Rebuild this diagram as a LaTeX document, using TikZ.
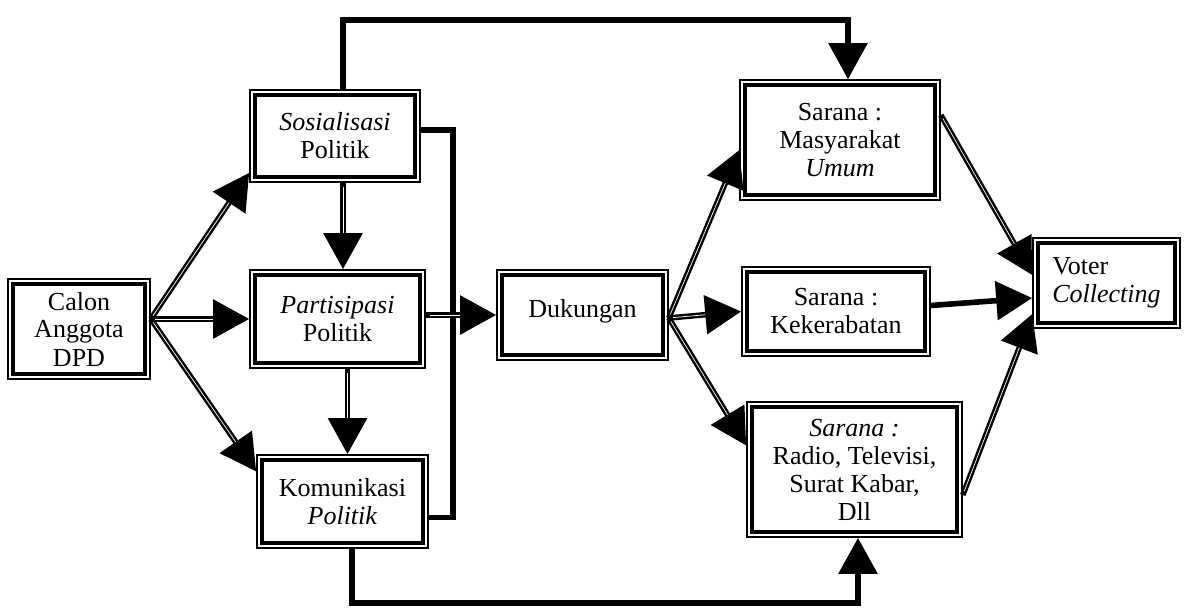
\documentclass[tikz,border=0pt]{standalone}
\usepackage{fontspec}
\setmainfont{Liberation Serif}
\usetikzlibrary{arrows.meta}
\begin{document}
\begin{tikzpicture}[x=0.5pt,y=-0.5pt,
  font=\fontsize{13}{14}\selectfont,
  box/.style={draw, line width=0.8pt, fill=white, inner sep=0pt, align=center,
    path picture={\draw[line width=2.2pt]
      ([shift={(2.4pt,-2.4pt)}]path picture bounding box.north west) rectangle
      ([shift={(-2.4pt,2.4pt)}]path picture bounding box.south east);}},
  sz/.style 2 args={minimum width=#1*0.5pt, minimum height=#2*0.5pt},
  solidlink/.style={line width=2.8pt, -{Triangle[length=18pt,width=19pt]}},
  link/.style={solidlink,
    postaction={draw=white, line width=0.35pt, -, shorten >=18pt, shorten <=2pt}},
  plain/.style={line width=2.8pt}
]
\useasboundingbox (0,0) rectangle (1184,611);

\node[box, sz={142}{100}] (calon) at (79,329) {Calon\\Anggota\\DPD};
\node[box, sz={170}{92}] (sos) at (335,136) {\textit{Sosialisasi}\\Politik};
\node[box, sz={175}{98}] (par) at (337.5,319) {\textit{Partisipasi}\\Politik};
\node[box, sz={171}{93}] (kom) at (342.5,501.5) {Komunikasi\\\textit{Politik}};
\node[box, sz={171}{90}] (duk) at (582.5,315) {\raisebox{6.5pt}{Dukungan}};
\node[box, sz={200}{120}] (mas) at (840,140) {Sarana :\\Masyarakat\\\textit{Umum}};
\node[box, sz={188}{89}] (kek) at (836,311.5) {Sarana :\\Kekerabatan};
\node[box, sz={215}{135}] (rad) at (854.5,469.5) {\textit{Sarana :}\\Radio, Televisi,\\Surat Kabar,\\Dll};
\node[box, sz={147}{90}, align=left] (vot) at (1106.5,283) {Voter\\\textit{Collecting}};

\coordinate (c0) at (calon.east |- par.west);
\coordinate (d0) at ([yshift=-1.5pt]duk.east);
\coordinate (bx) at (453,320);
\coordinate (top) at (600,20);
\coordinate (bot) at (600,603);

% from Calon
\draw[link] (c0) -- ([yshift=5pt]sos.south west);
\draw[link] (c0) -- (par.west);
\draw[link] (c0) -- ([yshift=15pt]kom.west);

% vertical chain
\draw[link] ([xshift=4pt]sos.south) -- ([xshift=4pt]sos.south |- par.north);
\draw[link] ([xshift=5pt]par.south) -- ([xshift=5pt]par.south |- kom.north);

% bracket and arrow to Dukungan
\draw[plain] ([yshift=3pt]sos.east) -| (bx) |- ([yshift=-8pt]kom.east);
\draw[link] (par.east |- duk.west) -- (duk.west);

% top and bottom routes
\draw[solidlink] ([xshift=4pt]sos.north) |- (top) -| ([xshift=4pt]mas.north);
\draw[solidlink] ([xshift=4.75pt]kom.south) |- (bot) -| ([xshift=1.75pt]rad.south);

% from Dukungan
\draw[link] (d0) -- ([yshift=-5pt]mas.west);
\draw[link] (d0) -- (kek.west);
\draw[link] (d0) -- ([yshift=12pt]rad.west);

% to Voter
\draw[link] ([yshift=12.5pt]mas.east) -- ([yshift=4pt]vot.west);
\draw[solidlink] ([yshift=3pt]kek.east) -- ([yshift=-7.5pt]vot.west);
\draw[link] ([yshift=-12.75pt]rad.east) -- ([yshift=-15.5pt]vot.west);
\end{tikzpicture}
\end{document}
